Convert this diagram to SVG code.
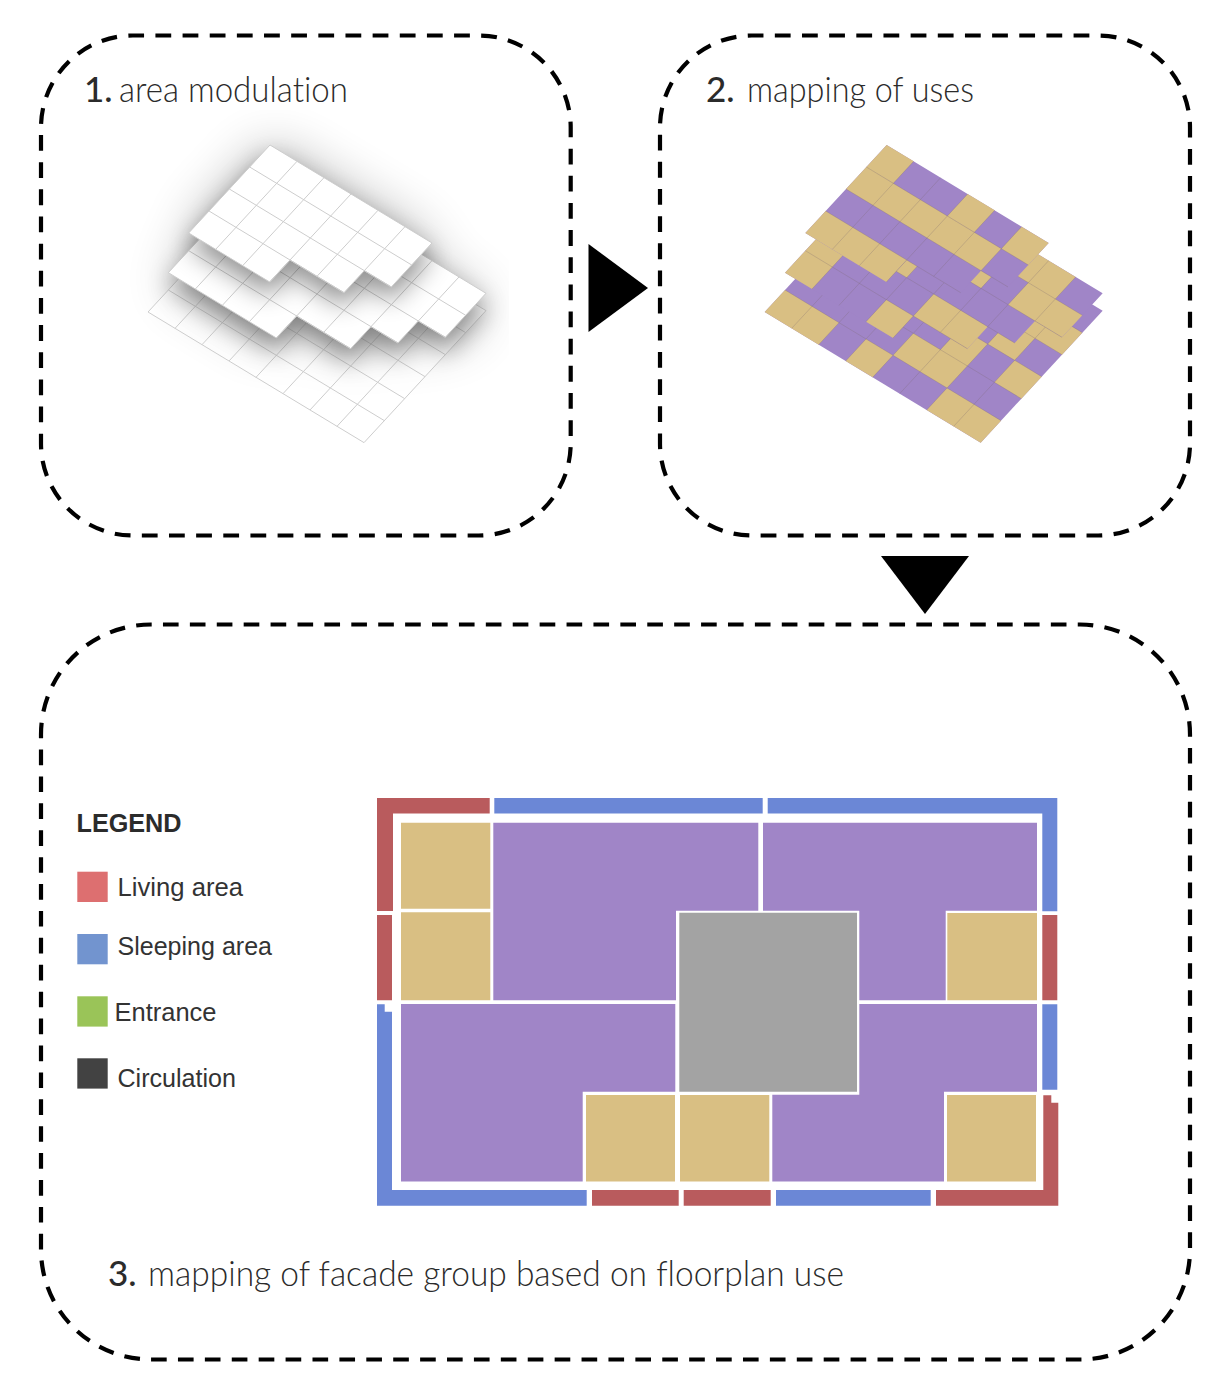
<svg xmlns="http://www.w3.org/2000/svg" xmlns:xlink="http://www.w3.org/1999/xlink" width="1227" height="1381" viewBox="0 0 1227 1381">
<style>
.dash{fill:none;stroke:#000;stroke-width:4.2;stroke-dasharray:15.7 11.3}
.num{font-family:"Lato","Liberation Sans",sans-serif;font-size:35px;font-weight:500;fill:#2b2b2b}
.ttl{font-family:"Lato","Liberation Sans",sans-serif;font-size:35px;font-weight:300;fill:#2b2b2b;font-variant-ligatures:none}
.lg{font-family:"Liberation Sans",Arial,sans-serif;font-size:25.5px;fill:#333}
.lgb{font-family:"Liberation Sans",Arial,sans-serif;font-size:25px;font-weight:bold;fill:#2b2b2b}
.vs{vector-effect:non-scaling-stroke}
.ln{fill:none;stroke:#cdcdcd;stroke-width:1}
.cl{fill:none;stroke:#7d6a70;stroke-opacity:.35;stroke-width:.8}
.w{fill:#fff}
.t{fill:#d9bf83}
.p{fill:#a085c7}
.r{fill:#b95b5d}
.b{fill:#6b87d6}
</style>
<defs>
<path id="s1" class="vs" d="M0 0H6V2H5V3H3V4H0Z"/>
<path id="s2" class="vs" d="M0 0H8V2H7V3H6V4H4V5H0Z"/>
<path id="s3" class="vs" d="M0 0H8V6H0Z"/>
<path id="g1" class="vs" d="M0 1H6M0 2H6M0 3H5M1 0V4M2 0V4M3 0V4M4 0V3M5 0V2"/>
<path id="g2" class="vs" d="M0 1H8M0 2H8M0 3H7M0 4H6M1 0V5M2 0V5M3 0V5M4 0V5M5 0V4M6 0V3M7 0V2"/>
<path id="g3" class="vs" d="M0 1H8M0 2H8M0 3H8M0 4H8M0 5H8M1 0V6M2 0V6M3 0V6M4 0V6M5 0V6M6 0V6M7 0V6"/>
<filter id="b24" filterUnits="userSpaceOnUse" x="40" y="20" width="560" height="520"><feGaussianBlur stdDeviation="26"/></filter>
<filter id="b9" filterUnits="userSpaceOnUse" x="80" y="90" width="470" height="420"><feGaussianBlur stdDeviation="13"/></filter>
<clipPath id="cp"><rect x="100" y="110" width="409" height="370"/></clipPath>
</defs>
<rect width="1227" height="1381" fill="#fff"/>

<g id="box1">
<rect class="dash" pathLength="1890" x="41" y="35.5" width="529.7" height="500" rx="92" ry="92" stroke-dashoffset="4.7"/>
<text class="num" x="84" y="102">1.</text>
<text class="ttl" x="119" y="102" textLength="229" lengthAdjust="spacingAndGlyphs">area modulation</text>
<g id="area-stack" clip-path="url(#cp)">
<g filter="url(#b24)" opacity=".3">
<use href="#s1" transform="matrix(27 16.33 -20.33 22 270 145)"/>
<use href="#s2" transform="matrix(27 16.33 -20.33 22 270 172)"/>
</g>
<use href="#s3" class="w" transform="matrix(27 16.33 -20.33 22 270 180)" opacity=".55"/>
<use href="#s3" class="ln" transform="matrix(27 16.33 -20.33 22 270 180)"/>
<use href="#g3" class="ln" transform="matrix(27 16.33 -20.33 22 270 180)"/>
<g filter="url(#b9)" opacity=".42"><use href="#s2" transform="matrix(27 16.33 -20.33 22 270 176)"/></g>
<use href="#s2" class="w" transform="matrix(27 16.33 -20.33 22 270 162.67)"/>
<use href="#g2" class="ln" transform="matrix(27 16.33 -20.33 22 270 162.67)"/>
<use href="#s2" class="ln" transform="matrix(27 16.33 -20.33 22 270 162.67)"/>
<g filter="url(#b9)" opacity=".42"><use href="#s1" transform="matrix(27 16.33 -20.33 22 270 158)"/></g>
<use href="#s1" class="w" transform="matrix(27 16.33 -20.33 22 270 145)"/>
<use href="#g1" class="ln" transform="matrix(27 16.33 -20.33 22 270 145)"/>
<use href="#s1" class="ln" transform="matrix(27 16.33 -20.33 22 270 145)"/>
</g>
</g>

<g id="box2">
<rect class="dash" pathLength="1890" x="660" y="35.5" width="530" height="500" rx="92" ry="92" stroke-dashoffset="4.3"/>
<text class="num" x="706" y="102">2.</text>
<text class="ttl" x="747" y="102" textLength="227" lengthAdjust="spacingAndGlyphs">mapping of uses</text>
<g id="use-stack">
<g transform="matrix(27 16.33 -20.33 22 886.67 180)">
<use href="#s3" class="p"/>
<path class="t" d="M0 5h2v1h-2zM3 5h1v1h-1zM6 5h2v1h-2zM4 4h2v1h-2zM5 3h1v1h-1zM7 3h1v1h-1zM6 2h1v1h-1zM6 1h2v1h-2zM6 0h1v1h-1z"/>
<use href="#g3" class="cl"/>
</g>
<g transform="matrix(27 16.33 -20.33 22 886.67 162.67)">
<use href="#s2" class="p"/>
<path class="t" d="M0 4h1v1h-1zM3 4h1v1h-1zM0 3h1v1h-1zM4 3h2v1h-2zM0 2h1v1h-1zM2 2h1v1h-1zM4 1h1v1h-1zM6 1h2v1h-2zM5 0h2v1h-2z"/>
<use href="#g2" class="cl"/>
</g>
<g transform="matrix(27 16.33 -20.33 22 886.67 145)">
<use href="#s1" class="p"/>
<path class="t" d="M0 0h1v1h-1zM3 0h1v1h-1zM5 0h1v1h-1zM0 1h5v1h-5zM0 3h3v1h-3z"/>
<use href="#g1" class="cl"/>
</g>
</g>
</g>

<g id="box3">
<rect class="dash" pathLength="3591" x="41" y="624.5" width="1149" height="735" rx="110" ry="110" stroke-dashoffset="15"/>
<text class="num" x="108" y="1286">3.</text>
<text class="ttl" x="148" y="1286" textLength="696" lengthAdjust="spacingAndGlyphs">mapping of facade group based on floorplan use</text>
</g>

<g id="legend">
<text class="lgb" x="76.5" y="832" textLength="105" lengthAdjust="spacingAndGlyphs">LEGEND</text>
<rect x="77.3" y="871.7" width="30.4" height="30.3" fill="#dd6f70"/>
<text class="lg" x="117.5" y="896" textLength="125.5" lengthAdjust="spacingAndGlyphs">Living area</text>
<rect x="77.3" y="934" width="30.4" height="30.3" fill="#7294cf"/>
<text class="lg" x="117.5" y="955" textLength="154.5" lengthAdjust="spacingAndGlyphs">Sleeping area</text>
<rect x="77.3" y="996.3" width="30.4" height="30.3" fill="#9ac458"/>
<text class="lg" x="114.5" y="1021" textLength="102" lengthAdjust="spacingAndGlyphs">Entrance</text>
<rect x="77.3" y="1058.3" width="30.4" height="30.3" fill="#424242"/>
<text class="lg" x="117.5" y="1086.5" textLength="118.5" lengthAdjust="spacingAndGlyphs">Circulation</text>
</g>

<g id="floorplan">
<g id="walls">
<path class="r" d="M377 798H489.7V813.5H393V911H377Z"/>
<path class="b" d="M494.3 798H762.7V813.5H494.3Z"/>
<path class="b" d="M767.7 798H1057.3V911.3H1042.3V813.5H767.7Z"/>
<path class="r" d="M377 915H392V1000.3H377Z"/>
<path class="b" d="M377 1004.3H384.7V1011.7H392V1190H586.7V1205.7H377Z"/>
<path class="r" d="M592 1190H678.7V1205.7H592Z"/>
<path class="r" d="M683.7 1190H770.7V1205.7H683.7Z"/>
<path class="b" d="M776 1190H930.7V1205.7H776Z"/>
<path class="r" d="M936 1190H1043.3V1095.3H1051.3V1102.7H1058.3V1205.7H936Z"/>
<path class="b" d="M1042.3 1004.3H1057.3V1089.7H1042.3Z"/>
<path class="r" d="M1042.3 915H1057.3V1000.3H1042.3Z"/>
</g>
<g id="rooms">
<path class="t" d="M401 822.7H490.3V908.7H401Z"/>
<path class="t" d="M401 912.3H490.3V1000.3H401Z"/>
<path class="p" d="M493.3 822.7H758.3V910.7H676V1000.3H493.3Z"/>
<path class="p" d="M763 822.7H1037V910.7H945.7V1000.3H859.3V910.7H763Z"/>
<path fill="#a3a3a3" d="M679.3 912.7H857V1091.7H679.3Z"/>
<path class="p" d="M401 1004H675.3V1091.7H582.7V1181.5H401Z"/>
<path class="t" d="M586 1095H675V1181.5H586Z"/>
<path class="t" d="M680 1095H769.3V1181.5H680Z"/>
<path class="p" d="M859.3 1004H1037V1091.7H944V1181.5H772.3V1094.7H859.3Z"/>
<path class="t" d="M947.3 913H1037V1000.3H947.3Z"/>
<path class="t" d="M947 1095H1036V1181.5H947Z"/>
</g>
</g>

<g id="connectors">
<polygon points="588.5,244 648,288 588.5,332" fill="#000"/>
<polygon points="881,556 969,556 925,614" fill="#000"/>
</g>
</svg>
